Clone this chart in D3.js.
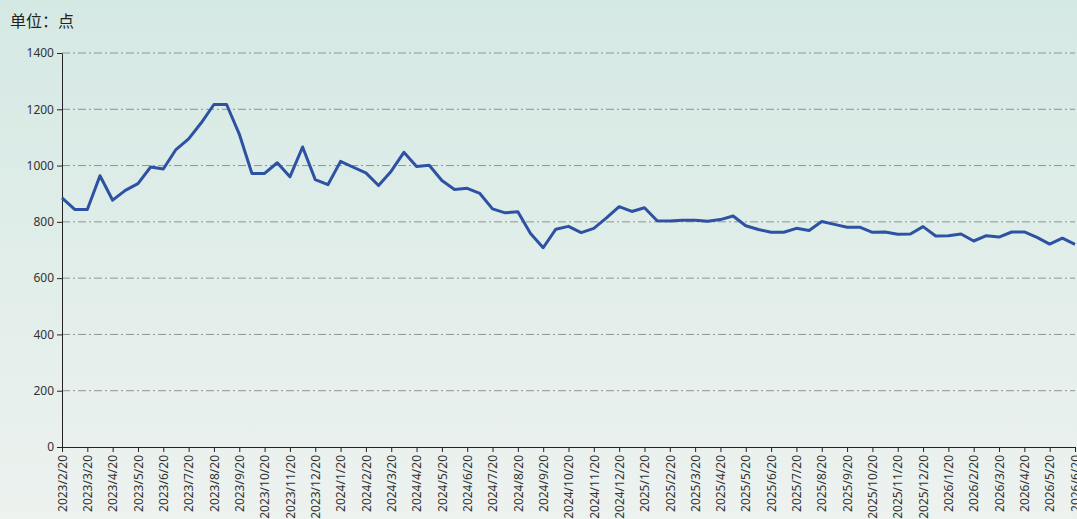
<!DOCTYPE html>
<html lang="zh">
<head>
    <meta charset="utf-8">
    <title>单位：点</title>
    <style>
    html, body {
        margin: 0;
        padding: 0;
        overflow: hidden;
    }
    .axis text {
        font-family: "Noto Sans", "Noto Sans CJK SC", sans-serif;
        font-size: 12px;
        fill: #333;
    }
    .axis path, .axis line {
        stroke: #222;
    }
    .grid line {
        stroke: #8f9593;
        stroke-dasharray: 8, 3, 2, 3;
    }
    </style>
</head>
<body>
<div id="chart"></div>
<script src="https://d3js.org/d3.v7.min.js"></script>
<script>
var w = 1077;
var h = 519;
var mar = {top: 53, right: 2, bottom: 72, left: 62};

// one label per month, data points come twice a month
var tickLabels = [
    "2023/2/20", "2023/3/20", "2023/4/20", "2023/5/20", "2023/6/20", "2023/7/20",
    "2023/8/20", "2023/9/20", "2023/10/20", "2023/11/20", "2023/12/20",
    "2024/1/20", "2024/2/20", "2024/3/20", "2024/4/20", "2024/5/20", "2024/6/20",
    "2024/7/20", "2024/8/20", "2024/9/20", "2024/10/20", "2024/11/20", "2024/12/20",
    "2025/1/20", "2025/2/20", "2025/3/20", "2025/4/20", "2025/5/20", "2025/6/20",
    "2025/7/20", "2025/8/20", "2025/9/20", "2025/10/20", "2025/11/20", "2025/12/20",
    "2026/1/20", "2026/2/20", "2026/3/20", "2026/4/20", "2026/5/20", "2026/6/20"
];

var values = [
    885, 844, 844, 964, 877, 912, 936, 995, 988, 1057,
    1095, 1152, 1217, 1217, 1112, 972, 972, 1010, 960, 1066,
    950, 932, 1015, 994, 974, 929, 980, 1047, 997, 1001,
    947, 915, 919, 901, 846, 832, 836, 759, 708, 774,
    784, 762, 777, 814, 854, 837, 850, 804, 803, 806,
    806, 802, 808, 821, 786, 773, 763, 763, 777, 769,
    801, 791, 781, 781, 763, 764, 756, 757, 783, 750,
    751, 757, 732, 751, 746, 764, 764, 745, 721, 742,
    720
];

var yTicks = [0, 200, 400, 600, 800, 1000, 1200, 1400];

var iw = w - mar.left - mar.right;
var ih = h - mar.top - mar.bottom;

var svg = d3.select("#chart").append("svg")
    .attr("width", w)
    .attr("height", h);

// background
var defs = svg.append("defs");
var grad = defs.append("linearGradient")
    .attr("id", "bg")
    .attr("x1", 0).attr("y1", 0)
    .attr("x2", 0).attr("y2", 1);
grad.append("stop").attr("offset", "0%").attr("stop-color", "#d5e9e4");
grad.append("stop").attr("offset", "55%").attr("stop-color", "#e2eeea");
grad.append("stop").attr("offset", "100%").attr("stop-color", "#edf2ef");
svg.append("rect")
    .attr("width", w)
    .attr("height", h)
    .attr("fill", "url(#bg)");

svg.append("text")
    .attr("x", 10)
    .attr("y", 27)
    .attr("font-family", "'Noto Sans CJK SC', 'Noto Sans', sans-serif")
    .attr("font-size", "16px")
    .attr("fill", "#222")
    .text("单位：点");

var main = svg.append("g")
    .attr("transform", "translate(" + mar.left + "," + mar.top + ")");

var x = d3.scalePoint()
    .domain(d3.range(values.length))
    .range([0, 1013]);

var y = d3.scaleLinear()
    .domain([0, 1400])
    .range([ih, 0]);

// dash-dot gridlines
main.append("g")
    .attr("class", "grid")
    .selectAll("line")
    .data(yTicks.filter(function(d) { return d > 0; }))
    .enter()
    .append("line")
    .attr("x1", 0)
    .attr("x2", iw)
    .attr("y1", function(d) { return y(d); })
    .attr("y2", function(d) { return y(d); });

// y-axis
main.append("g")
    .attr("class", "axis")
    .call(d3.axisLeft(y)
        .tickValues(yTicks)
        .tickFormat(d3.format("d"))
        .tickSize(5)
        .tickSizeOuter(0)
        .tickPadding(3));

// x-axis, every other category carries a label
var xAxis = d3.axisBottom(x)
    .tickValues(d3.range(0, values.length, 2))
    .tickFormat(function(d) { return tickLabels[d / 2]; })
    .tickSize(5)
    .tickSizeOuter(0);

var gx = main.append("g")
    .attr("class", "axis")
    .attr("transform", "translate(0," + ih + ")")
    .call(xAxis);
gx.select(".domain").attr("d", "M0,0.5H" + iw);
gx.selectAll("text")
    .attr("transform", "rotate(-90)")
    .attr("text-anchor", "end")
    .attr("x", -8)
    .attr("y", 0)
    .attr("dy", "0.35em");

// line
var line = d3.line()
    .x(function(d, i) { return x(i); })
    .y(function(d) { return y(d); });

main.append("path")
    .datum(values)
    .attr("fill", "none")
    .attr("stroke", "#2d52a3")
    .attr("stroke-width", 3)
    .attr("stroke-linejoin", "round")
    .attr("d", line);
</script>
</body>
</html>
